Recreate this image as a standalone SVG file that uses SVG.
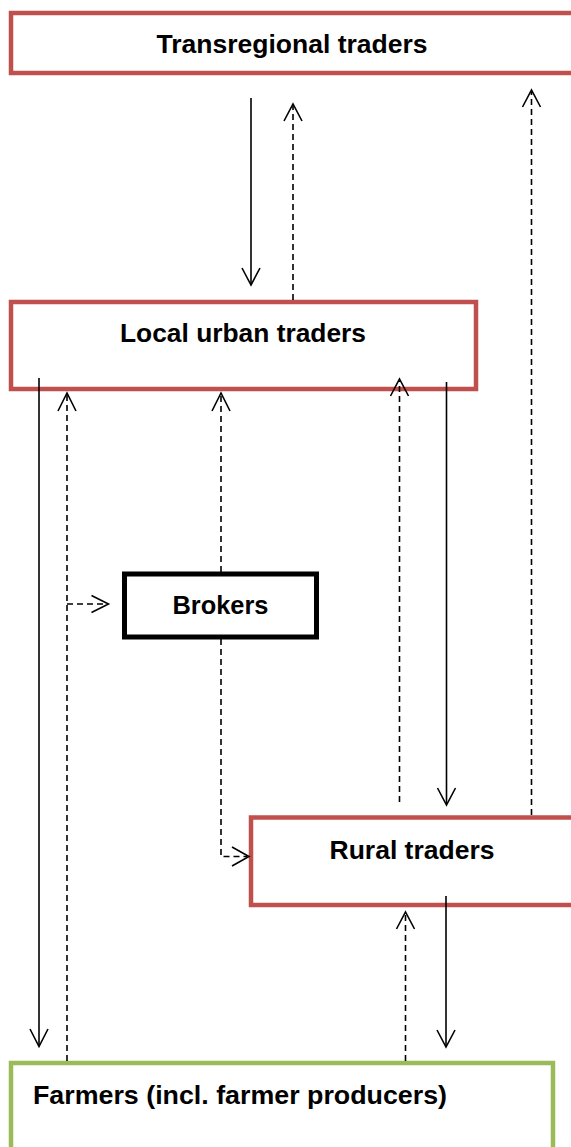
<svg xmlns="http://www.w3.org/2000/svg" width="571" height="1147" viewBox="0 0 571 1147">
<style>
.red{fill:#fff;stroke:#C0504D;stroke-width:4.5}
.blk{fill:#fff;stroke:#000;stroke-width:5}
.grn{fill:#fff;stroke:#9BBB59;stroke-width:4.5}
.t{font-family:"Liberation Sans",Arial,sans-serif;font-weight:bold;font-size:25px;fill:#000}
.s{fill:none;stroke:#000;stroke-width:1.6}
.d{fill:none;stroke:#000;stroke-width:1.6;stroke-dasharray:6,4}
.h{fill:none;stroke:#000;stroke-width:1.6}
</style>
<rect width="571" height="1147" fill="#fff"/>
<g id="transregional">
<rect class="red" x="11" y="13" width="580" height="60"/>
<text class="t" x="292" y="53" text-anchor="middle" textLength="271" lengthAdjust="spacingAndGlyphs">Transregional traders</text>
</g>
<g id="local">
<rect class="red" x="11" y="302" width="465" height="87"/>
<text class="t" x="243" y="342" text-anchor="middle" textLength="246" lengthAdjust="spacingAndGlyphs">Local urban traders</text>
</g>
<g id="brokers">
<rect class="blk" x="124.5" y="574" width="192" height="63"/>
<text class="t" x="220.5" y="614" text-anchor="middle" textLength="96" lengthAdjust="spacingAndGlyphs">Brokers</text>
</g>
<g id="rural">
<rect class="red" x="251" y="817.5" width="340" height="87.5"/>
<text class="t" x="412" y="859" text-anchor="middle" textLength="165" lengthAdjust="spacingAndGlyphs">Rural traders</text>
</g>
<g id="farmers">
<rect class="grn" x="11" y="1063" width="542" height="100"/>
<text class="t" x="33" y="1104" textLength="414" lengthAdjust="spacingAndGlyphs">Farmers (incl. farmer producers)</text>
</g>
<g id="connectors">
<!-- transregional -> local -->
<line class="s" x1="251" y1="98" x2="251" y2="284"/>
<polyline class="h" points="242,268 251,285 260,268"/>
<!-- local -> transregional (dashed) -->
<line class="d" x1="293" y1="300" x2="293" y2="106"/>
<polyline class="h" points="284,121 293,104 302,121"/>
<!-- rural -> transregional (dashed) -->
<line class="d" x1="531.5" y1="815" x2="531.5" y2="92"/>
<polyline class="h" points="522.5,107 531.5,90 540.5,107"/>
<!-- local -> farmers -->
<line class="s" x1="39" y1="378" x2="39" y2="1045"/>
<polyline class="h" points="30,1029 39,1046.5 48,1029"/>
<!-- farmers -> local (dashed) -->
<line class="d" x1="67" y1="1061" x2="67" y2="395"/>
<polyline class="h" points="58,411 67,393 76,411"/>
<!-- farmers -> brokers (dashed) -->
<line class="d" x1="67" y1="604" x2="106" y2="604"/>
<polyline class="h" points="91.5,595.5 108.5,604 91.5,612.5"/>
<!-- brokers -> local (dashed) -->
<line class="d" x1="221" y1="572" x2="221" y2="395"/>
<polyline class="h" points="212,411 221,393 230,411"/>
<!-- brokers -> rural (dashed) -->
<polyline class="d" points="221,639 221,856.5 247,856.5"/>
<polyline class="h" points="232,847 249,856.5 232,866"/>
<!-- rural -> local (dashed) -->
<line class="d" x1="399.5" y1="802" x2="399.5" y2="381"/>
<polyline class="h" points="390.5,396 399.5,379 408.5,396"/>
<!-- local -> rural -->
<line class="s" x1="446.5" y1="382" x2="446.5" y2="804"/>
<polyline class="h" points="437.5,788 446.5,805 455.5,788"/>
<!-- farmers -> rural (dashed) -->
<line class="d" x1="405.5" y1="1061" x2="405.5" y2="914"/>
<polyline class="h" points="396.5,929 405.5,912 414.5,929"/>
<!-- rural -> farmers -->
<line class="s" x1="446" y1="896" x2="446" y2="1046"/>
<polyline class="h" points="437,1030 446,1047 455,1030"/>
</g>
</svg>
